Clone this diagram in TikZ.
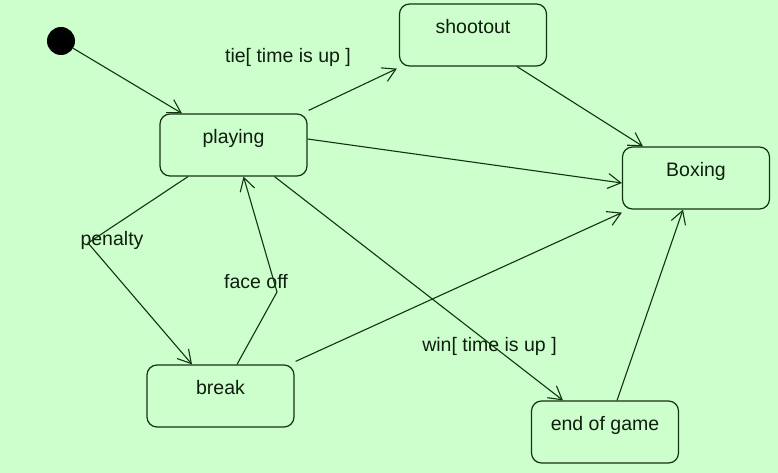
\documentclass[tikz,border=0pt]{standalone}
\usepackage{fontspec}
\setmainfont{Liberation Sans}
\usetikzlibrary{arrows.meta}
\definecolor{bg}{RGB}{204,255,204}
\definecolor{ln}{RGB}{20,50,20}
\definecolor{tx}{RGB}{15,30,15}
\begin{document}
\begin{tikzpicture}[x=1pt,y=-1pt,
  font=\fontsize{19.5}{23}\selectfont,
  statebox/.style={draw=ln,line width=1.2pt,fill=bg,rounded corners=10pt,
    minimum width=147pt,minimum height=62pt,inner ysep=0pt,
    text height=29.5pt,text depth=32.5pt,text=tx},
  lbl/.style={anchor=base,inner sep=0pt,text=tx},
  edge/.style={draw=ln,line width=1.1pt,-{Straight Barb[length=13pt,width=15pt,line width=1.1pt]}}]
\fill[bg] (0,0) rectangle (778,473);
\useasboundingbox (0,0) rectangle (778,473);

\node[circle,fill=black,minimum size=28pt,inner sep=0pt] (init) at (61,41) {};
\node[statebox] (playing) at (233.5,145) {playing};
\node[statebox] (shootout) at (473,35) {shootout};
\node[statebox] (boxing) at (696,178) {Boxing};
\node[statebox] (break) at (220.5,396) {break};
\node[statebox] (end) at (605,432) {end of game};

\coordinate (pen) at (88,243);
\coordinate (fo) at (277,292);

\node[lbl] (tielbl) at (288,63) {tie[ time is up ]};
\node[lbl] (penlbl) at (112,245) {penalty};
\node[lbl] (folbl) at (256,288) {face off};
\node[lbl] (winlbl) at (489.5,351) {win[ time is up ]};

\draw[edge] (init) -- ([xshift=-51.5pt]playing.north);
\draw[edge] ([shift={(1,-3)}]playing.north east) -- ([shift={(-2,2)}]shootout.south west);
\draw[edge] ([xshift=44pt]shootout.south) -- ([xshift=-53pt]boxing.north);
\draw[edge] ([yshift=6pt]playing.east) -- ([yshift=-5pt]boxing.west);
\draw[edge] ([xshift=-45.5pt]playing.south) -- (pen) -- ([xshift=-28.5pt]break.north);
\draw[edge] ([xshift=16.5pt]break.north) -- (fo) -- ([xshift=10pt]playing.south);
\draw[edge] ([shift={(1,-3)}]break.north east) -- ([shift={(0,3)}]boxing.south west);
\draw[edge] ([xshift=41pt]playing.south) -- ([xshift=-42pt]end.north);
\draw[edge] ([xshift=12pt]end.north) -- ([xshift=-13pt]boxing.south);
\end{tikzpicture}
\end{document}
